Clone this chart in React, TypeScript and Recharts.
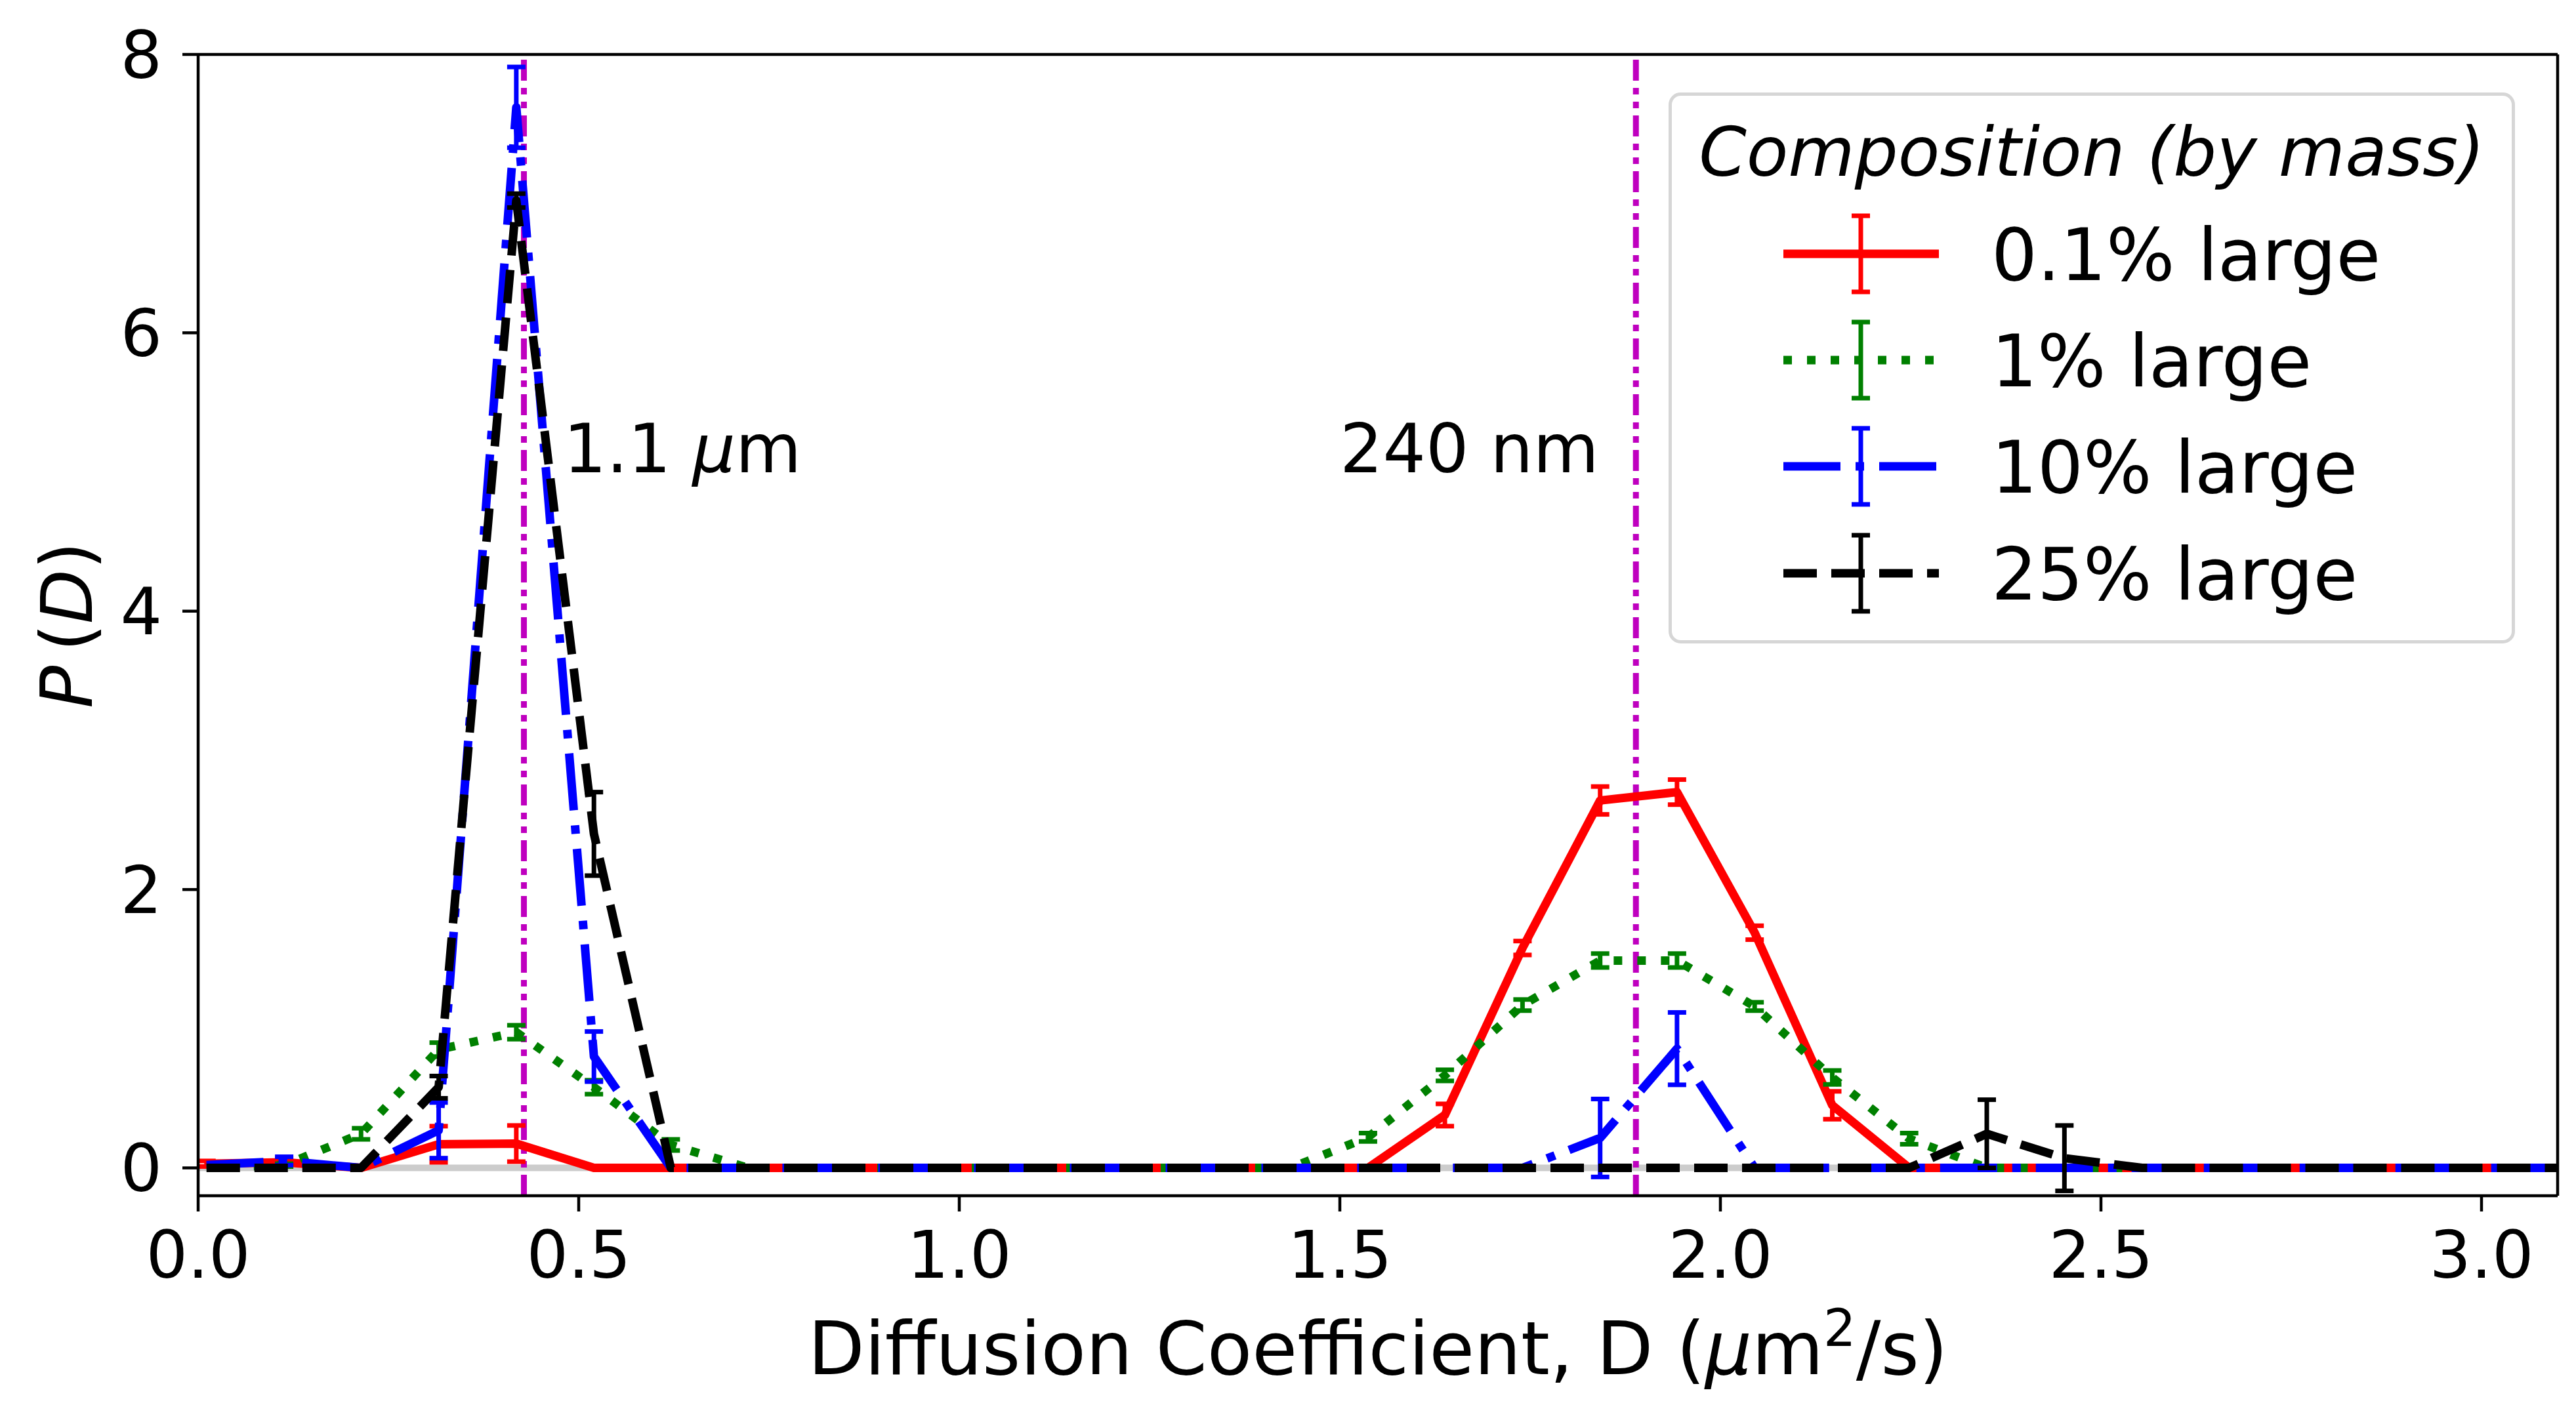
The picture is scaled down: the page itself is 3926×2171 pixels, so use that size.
import { ComposedChart, Line, XAxis, YAxis, ErrorBar, ReferenceLine, ReferenceDot, Legend } from "recharts"

const FONT = "'DejaVu Sans', 'Liberation Sans', sans-serif"

// histogram bin centres, D in um^2/s (last one sits past the axis limit and is clipped)
const diffusion = [
    0.011, 0.113, 0.214, 0.316, 0.418, 0.52, 0.621, 0.723, 0.825, 0.926,
    1.028, 1.13, 1.231, 1.333, 1.435, 1.537, 1.638, 1.74, 1.842, 1.943,
    2.045, 2.147, 2.248, 2.35, 2.452, 2.554, 2.655, 2.757, 2.859, 2.96,
    3.062, 3.164,
]

// P(D) for each composition, with its error
const large01 = [
    0.03, 0.04, 0, 0.17, 0.175, 0, 0, 0, 0, 0,
    0, 0, 0, 0, 0, 0, 0.38, 1.58, 2.64, 2.7,
    1.69, 0.45, 0, 0, 0, 0, 0, 0, 0, 0,
    0, 0,
]
const large01Err = [
    0.02, 0.03, 0, 0.13, 0.13, 0, 0, 0, 0, 0,
    0, 0, 0, 0, 0, 0, 0.08, 0.05, 0.1, 0.09,
    0.05, 0.1, 0, 0, 0, 0, 0, 0, 0, 0,
    0, 0,
]
const large1 = [
    0, 0.02, 0.245, 0.85, 0.975, 0.58, 0.165, 0, 0, 0,
    0, 0, 0, 0, 0, 0.22, 0.665, 1.17, 1.49, 1.49,
    1.16, 0.65, 0.21, 0, 0, 0, 0, 0, 0, 0,
    0, 0,
]
const large1Err = [
    0, 0.01, 0.04, 0.05, 0.05, 0.05, 0.04, 0, 0, 0,
    0, 0, 0, 0, 0, 0.03, 0.04, 0.04, 0.05, 0.05,
    0.03, 0.05, 0.04, 0, 0, 0, 0, 0, 0, 0,
    0, 0,
]
const large10 = [
    0.02, 0.05, 0, 0.27, 7.62, 0.8, 0, 0, 0, 0,
    0, 0, 0, 0, 0, 0, 0, 0, 0.215, 0.857,
    0, 0, 0, 0, 0, 0, 0, 0, 0, 0,
    0, 0,
]
const large10Err = [
    0, 0.03, 0, 0.2, 0.29, 0.18, 0, 0, 0, 0,
    0, 0, 0, 0, 0, 0, 0, 0, 0.28, 0.26,
    0, 0, 0, 0, 0, 0, 0, 0, 0, 0,
    0, 0,
]
const large25 = [
    0, 0, 0, 0.58, 6.95, 2.4, 0, 0, 0, 0,
    0, 0, 0, 0, 0, 0, 0, 0, 0, 0,
    0, 0, 0, 0.245, 0.07, 0, 0, 0, 0, 0,
    0, 0,
]
const large25Err = [
    0, 0, 0, 0.08, 0.05, 0.3, 0, 0, 0, 0,
    0, 0, 0, 0, 0, 0, 0, 0, 0, 0,
    0, 0, 0, 0.245, 0.235, 0, 0, 0, 0, 0,
    0, 0,
]

const xTicks = [0, 0.5, 1, 1.5, 2, 2.5, 3]
const yTicks = [0, 2, 4, 6, 8]

// peak positions marked with vertical lines
const markers = [0.428, 1.889]

const data = diffusion.map((d, i) => ({
    d,
    p01: large01[i],
    p01Err: large01Err[i],
    p1: large1[i],
    p1Err: large1Err[i],
    p10: large10[i],
    p10Err: large10Err[i],
    p25: large25[i],
    p25Err: large25Err[i],
}))

const series = [
    { key: "p01", name: "0.1% large", color: "#ff0000", dash: undefined as string | undefined },
    { key: "p1", name: "1% large", color: "#008000", dash: "13 23" },
    { key: "p10", name: "10% large", color: "#0000ff", dash: "87 23 13 23" },
    { key: "p25", name: "25% large", color: "#000000", dash: "51 22" },
]

function CompositionLegend() {
    const rows = [246, 408, 570, 733]
    return (
        <svg width={1290} height={840} style={{ display: "block" }}>
            <rect x={2.5} y={2.5} width={1285} height={835} rx={16} fill="#ffffff" fillOpacity={0.8} stroke="#d6d6d6" strokeWidth={5} />
            <text x={645} y={127} textAnchor="middle" fontFamily={FONT} fontStyle="italic" fontSize={104} fill="#000">
                Composition (by mass)
            </text>
            {series.map((s, i) => {
                const y = rows[i]
                return (
                    <g key={s.key}>
                        <line x1={175} x2={412} y1={y} y2={y} stroke={s.color} strokeWidth={13} strokeDasharray={s.dash} />
                        <line x1={293} x2={293} y1={y - 58} y2={y + 58} stroke={s.color} strokeWidth={7} />
                        <line x1={279} x2={307} y1={y - 58} y2={y - 58} stroke={s.color} strokeWidth={7} />
                        <line x1={279} x2={307} y1={y + 58} y2={y + 58} stroke={s.color} strokeWidth={7} />
                        <text x={492} y={y + 40} fontFamily={FONT} fontSize={110} fill="#000">
                            {s.name}
                        </text>
                    </g>
                )
            })}
        </svg>
    )
}

const XLabel = () => (
    <text x={2100} y={2095} textAnchor="middle" fontFamily={FONT} fontSize={112} fill="#000">
        Diffusion Coefficient, D (<tspan fontStyle="italic">μ</tspan>m
        <tspan dy={-43} fontSize={78}>2</tspan>
        <tspan dy={43}>/s)</tspan>
    </text>
)

const YLabel = () => (
    <text x={140} y={953} transform="rotate(-90 140 953)" textAnchor="middle" fontFamily={FONT} fontSize={108} fill="#000">
        <tspan fontStyle="italic">P</tspan>
        {"\u2009("}
        <tspan fontStyle="italic">D</tspan>)
    </text>
)

export default function App() {
    return (
        <div style={{ position: "absolute", left: 0, top: 0, background: "#fff" }}>
            <ComposedChart
                width={3926}
                height={2171}
                data={data}
                margin={{ top: 83, right: 28, bottom: 98, left: 52 }}
            >
                <XAxis
                    dataKey="d"
                    type="number"
                    domain={[0, 3.1]}
                    ticks={xTicks}
                    interval={0}
                    allowDataOverflow
                    tickFormatter={(v: number) => v.toFixed(1)}
                    height={250}
                    tickSize={24}
                    tickMargin={30}
                    axisLine={{ stroke: "#000", strokeWidth: 4.5 }}
                    tickLine={{ stroke: "#000", strokeWidth: 4.5 }}
                    tick={{ fill: "#000", fontSize: 100, fontFamily: FONT }}
                    label={XLabel}
                />
                <YAxis
                    type="number"
                    domain={[-0.2, 8]}
                    ticks={yTicks}
                    interval={0}
                    allowDataOverflow
                    width={250}
                    tickSize={24}
                    tickMargin={31}
                    axisLine={{ stroke: "#000", strokeWidth: 4.5 }}
                    tickLine={{ stroke: "#000", strokeWidth: 4.5 }}
                    tick={{ fill: "#000", fontSize: 100, fontFamily: FONT }}
                    label={YLabel}
                />
                <ReferenceLine y={0} stroke="#cccccc" strokeWidth={10} />
                {markers.map((m) => (
                    <ReferenceLine key={m} x={m} stroke="#bf00bf" strokeWidth={9} strokeDasharray="32 11 10 11 10 11" />
                ))}
                {series.map((s) => (
                    <Line
                        key={s.key}
                        dataKey={s.key}
                        name={s.name}
                        type="linear"
                        stroke={s.color}
                        strokeWidth={13}
                        strokeDasharray={s.dash}
                        strokeLinejoin="round"
                        dot={false}
                        activeDot={false}
                        isAnimationActive={false}
                    >
                        <ErrorBar dataKey={s.key + "Err"} direction="y" width={14} strokeWidth={7} stroke={s.color} isAnimationActive={false} />
                    </Line>
                ))}
                <ReferenceDot
                    x={0.48}
                    y={5}
                    r={0}
                    shape={(p: any) => (
                        <text x={p.cx} y={p.cy} fontFamily={FONT} fontSize={103} fill="#000">
                            1.1 <tspan fontStyle="italic">μ</tspan>m
                        </text>
                    )}
                />
                <ReferenceDot
                    x={1.5}
                    y={5}
                    r={0}
                    shape={(p: any) => (
                        <text x={p.cx} y={p.cy} fontFamily={FONT} fontSize={103} fill="#000">
                            240 nm
                        </text>
                    )}
                />
                <ReferenceLine y={8} stroke="#000" strokeWidth={4.5} />
                <ReferenceLine x={3.1} stroke="#000" strokeWidth={4.5} />
                <Legend
                    layout="vertical"
                    align="center"
                    verticalAlign="middle"
                    wrapperStyle={{ left: 2543, top: 141, width: 1290, height: 840 }}
                    content={CompositionLegend}
                />
            </ComposedChart>
        </div>
    )
}
